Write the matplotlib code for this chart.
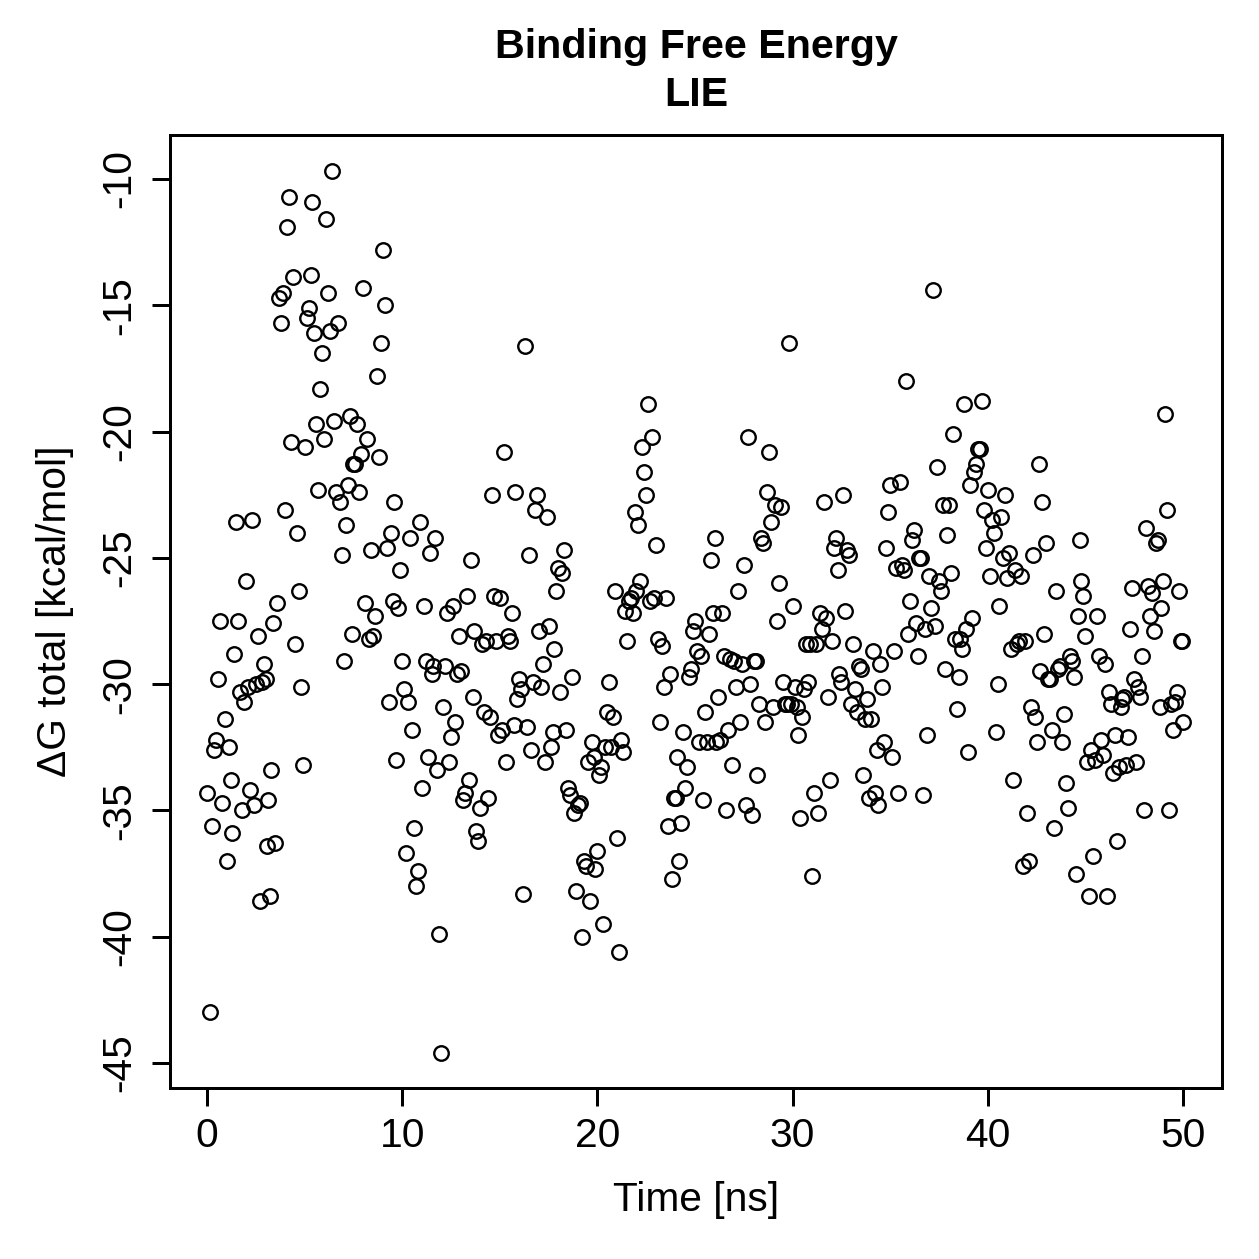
import matplotlib
matplotlib.use('Agg')
import matplotlib.pyplot as plt

plt.rcParams['font.family'] = ['Liberation Sans', 'DejaVu Sans']

# --- data: time [ns] and LIE dG total [kcal/mol] ---
time_ns = [
    0.0, 0.15, 0.25, 0.35, 0.45, 0.55, 0.65, 0.75, 0.9,
    1.0, 1.1, 1.2, 1.3, 1.4, 1.5, 1.6, 1.7, 1.8, 1.9,
    2.0, 2.1, 2.2, 2.3, 2.4, 2.5, 2.6, 2.7, 2.8, 2.9,
    3.0, 3.05, 3.1, 3.2, 3.3, 3.4, 3.5, 3.6, 3.7, 3.8, 3.9,
    4.0, 4.1, 4.2, 4.3, 4.4, 4.5, 4.6, 4.7, 4.8, 4.9,
    5.0, 5.1, 5.2, 5.3, 5.4, 5.5, 5.6, 5.7, 5.8, 5.9,
    6.0, 6.1, 6.2, 6.3, 6.4, 6.5, 6.6, 6.7, 6.8, 6.9,
    7.0, 7.1, 7.2, 7.3, 7.4, 7.5, 7.6, 7.7, 7.8, 7.9,
    8.0, 8.1, 8.2, 8.3, 8.4, 8.5, 8.6, 8.7, 8.8, 8.9,
    9.0, 9.1, 9.2, 9.3, 9.4, 9.5, 9.6, 9.7, 9.8, 9.9,
    10.0, 10.1, 10.2, 10.3, 10.4, 10.5, 10.6, 10.7, 10.8, 10.9,
    11.0, 11.1, 11.2, 11.3, 11.4, 11.5, 11.6, 11.7, 11.8, 11.9,
    12.0, 12.1, 12.2, 12.3, 12.4, 12.5, 12.6, 12.7, 12.8, 12.9,
    13.0, 13.1, 13.2, 13.3, 13.4, 13.5, 13.6, 13.7, 13.8, 13.9,
    14.0, 14.1, 14.2, 14.3, 14.4, 14.5, 14.6, 14.7, 14.8, 14.9,
    15.0, 15.1, 15.2, 15.3, 15.4, 15.5, 15.6, 15.7, 15.8, 15.9,
    16.0, 16.1, 16.2, 16.3, 16.4, 16.5, 16.6, 16.7, 16.8, 16.9,
    17.0, 17.1, 17.2, 17.3, 17.4, 17.5, 17.6, 17.7, 17.8, 17.9,
    18.0, 18.1, 18.2, 18.3, 18.4, 18.5, 18.6, 18.7, 18.8, 18.9,
    19.0, 19.1, 19.2, 19.3, 19.4, 19.5, 19.6, 19.7, 19.8, 19.9,
    20.0, 20.1, 20.2, 20.3, 20.4, 20.5, 20.6, 20.7, 20.8, 20.9,
    21.0, 21.1, 21.2, 21.3, 21.4, 21.5, 21.6, 21.7, 21.8, 21.9,
    22.0, 22.1, 22.2, 22.3, 22.4, 22.5, 22.6, 22.7, 22.8, 22.9,
    23.0, 23.1, 23.2, 23.3, 23.4, 23.5, 23.6, 23.7, 23.8, 23.9,
    24.0, 24.1, 24.2, 24.3, 24.4, 24.5, 24.6, 24.7, 24.8, 24.9,
    25.0, 25.1, 25.2, 25.3, 25.4, 25.5, 25.6, 25.7, 25.8, 25.9,
    26.0, 26.1, 26.2, 26.3, 26.4, 26.5, 26.6, 26.7, 26.8, 26.9,
    27.0, 27.1, 27.2, 27.3, 27.4, 27.5, 27.6, 27.7, 27.8, 27.9,
    28.0, 28.1, 28.2, 28.3, 28.4, 28.5, 28.6, 28.7, 28.8, 28.9,
    29.0, 29.1, 29.2, 29.3, 29.4, 29.5, 29.6, 29.7, 29.8, 29.9,
    30.0, 30.1, 30.2, 30.3, 30.4, 30.5, 30.6, 30.7, 30.8, 30.9,
    31.0, 31.1, 31.2, 31.3, 31.4, 31.5, 31.6, 31.7, 31.8, 31.9,
    32.0, 32.1, 32.2, 32.3, 32.4, 32.5, 32.6, 32.7, 32.8, 32.9,
    33.0, 33.1, 33.2, 33.3, 33.4, 33.5, 33.6, 33.7, 33.8, 33.9,
    34.0, 34.1, 34.2, 34.3, 34.4, 34.5, 34.6, 34.7, 34.8, 34.9,
    35.0, 35.1, 35.2, 35.3, 35.4, 35.5, 35.6, 35.7, 35.8, 35.9,
    36.0, 36.1, 36.2, 36.3, 36.4, 36.5, 36.6, 36.7, 36.8, 36.9,
    37.0, 37.1, 37.2, 37.3, 37.4, 37.5, 37.6, 37.7, 37.8, 37.9,
    38.0, 38.1, 38.2, 38.3, 38.4, 38.5, 38.6, 38.7, 38.8, 38.9,
    39.0, 39.1, 39.2, 39.3, 39.4, 39.5, 39.6, 39.7, 39.8, 39.9,
    40.0, 40.1, 40.2, 40.3, 40.4, 40.5, 40.6, 40.7, 40.8, 40.9,
    41.0, 41.1, 41.2, 41.3, 41.4, 41.5, 41.6, 41.7, 41.8, 41.9,
    42.0, 42.1, 42.2, 42.3, 42.4, 42.5, 42.6, 42.7, 42.8, 42.9,
    43.0, 43.1, 43.2, 43.3, 43.4, 43.5, 43.6, 43.7, 43.8, 43.9,
    44.0, 44.1, 44.2, 44.3, 44.4, 44.5, 44.6, 44.7, 44.8, 44.9,
    45.0, 45.1, 45.2, 45.3, 45.4, 45.5, 45.6, 45.7, 45.8, 45.9,
    46.0, 46.1, 46.2, 46.3, 46.4, 46.5, 46.6, 46.7, 46.8, 46.9,
    47.0, 47.1, 47.2, 47.3, 47.4, 47.5, 47.6, 47.7, 47.8, 47.9,
    48.0, 48.1, 48.2, 48.3, 48.4, 48.5, 48.6, 48.7, 48.8, 48.9,
    49.0, 49.1, 49.2, 49.3, 49.4, 49.5, 49.6, 49.7, 49.8, 49.9, 49.95, 50.0,
]

dg_total = [
    -34.3, -43.0, -35.6, -32.6, -32.2, -29.8, -27.5, -34.7, -31.4,
    -37.0, -32.5, -33.8, -35.9, -28.8, -23.6, -27.5, -30.3, -35.0, -30.7,
    -25.9, -30.1, -34.2, -23.5, -34.8, -30.0, -28.1, -38.6, -29.9, -29.2,
    -29.8, -36.4, -34.6, -38.4, -33.4, -27.6, -36.3, -26.8, -14.7, -15.7, -14.5,
    -23.1, -11.9, -10.7, -20.4, -13.9, -28.4, -24.0, -26.3, -30.1, -33.2,
    -20.6, -15.5, -15.1, -13.8, -10.9, -16.1, -19.7, -22.3, -18.3, -16.9,
    -20.3, -11.6, -14.5, -16.0, -9.7, -19.6, -22.4, -15.7, -22.8, -24.9,
    -29.1, -23.7, -22.1, -19.4, -28.0, -21.3, -21.3, -19.7, -22.4, -20.9,
    -14.3, -26.8, -20.3, -28.2, -24.7, -28.1, -27.3, -17.8, -21.0, -16.5,
    -12.8, -15.0, -24.6, -30.7, -24.0, -26.7, -22.8, -33.0, -27.0, -25.5,
    -29.1, -30.2, -36.7, -30.7, -24.2, -31.8, -35.7, -38.0, -37.4, -23.6,
    -34.1, -26.9, -29.1, -32.9, -24.8, -29.6, -29.3, -24.2, -33.4, -39.9,
    -44.6, -30.9, -29.3, -27.2, -33.1, -32.1, -26.9, -31.5, -29.6, -28.1,
    -29.5, -34.6, -34.3, -26.5, -33.8, -25.1, -30.5, -27.9, -35.8, -36.2,
    -34.9, -28.4, -31.1, -28.3, -34.5, -31.3, -22.5, -26.5, -28.3, -32.0,
    -26.6, -31.8, -20.8, -33.1, -28.1, -28.3, -27.2, -31.6, -22.4, -30.6,
    -29.8, -30.2, -38.3, -16.6, -31.7, -24.9, -32.6, -29.9, -23.1, -22.5,
    -27.9, -30.1, -29.2, -33.1, -23.4, -27.7, -32.5, -31.9, -28.6, -26.3,
    -25.4, -30.3, -25.6, -24.7, -31.8, -34.1, -34.4, -29.7, -35.1, -38.2,
    -34.8, -34.7, -40.0, -37.0, -37.2, -33.1, -38.6, -32.3, -32.9, -37.3,
    -36.6, -33.6, -33.3, -39.5, -32.5, -31.1, -29.9, -32.5, -31.3, -26.3,
    -36.1, -40.6, -32.2, -32.7, -27.1, -28.3, -26.7, -26.6, -27.2, -23.2,
    -26.3, -23.7, -25.9, -20.6, -21.6, -22.5, -18.9, -26.7, -20.2, -26.6,
    -24.5, -28.2, -31.5, -28.5, -30.1, -26.6, -35.6, -29.6, -37.7, -34.5,
    -34.5, -32.9, -37.0, -35.5, -31.9, -34.1, -33.3, -29.7, -29.4, -27.9,
    -27.5, -28.7, -32.3, -28.9, -34.6, -31.1, -32.3, -28.0, -25.1, -27.2,
    -24.2, -32.3, -30.5, -32.2, -27.2, -28.9, -35.0, -31.8, -29.0, -33.2,
    -29.1, -30.1, -26.3, -31.5, -29.2, -25.3, -34.8, -20.2, -30.0, -35.2,
    -29.1, -29.1, -33.6, -30.8, -24.2, -24.4, -31.5, -22.4, -20.8, -23.6,
    -30.9, -22.9, -27.5, -26.0, -23.0, -29.9, -30.8, -30.8, -16.5, -30.8,
    -26.9, -30.1, -30.9, -32.0, -35.3, -31.3, -30.2, -28.4, -29.9, -28.4,
    -37.6, -34.3, -28.4, -35.1, -27.2, -27.8, -22.8, -27.4, -30.5, -33.8,
    -28.3, -24.6, -24.2, -25.5, -29.6, -29.9, -22.5, -27.1, -24.7, -24.9,
    -30.8, -28.4, -30.2, -31.1, -29.3, -29.4, -33.6, -31.4, -30.6, -34.5,
    -31.4, -28.7, -34.3, -32.6, -34.8, -29.2, -30.1, -32.3, -24.6, -23.2,
    -22.1, -32.9, -28.7, -25.4, -34.3, -22.0, -25.3, -25.5, -18.0, -28.0,
    -26.7, -24.3, -23.9, -27.6, -28.9, -25.0, -25.0, -34.4, -27.8, -32.0,
    -25.7, -27.0, -14.4, -27.7, -21.4, -25.9, -26.3, -22.9, -29.4, -24.1,
    -22.9, -25.6, -20.1, -28.2, -31.0, -29.7, -28.2, -28.6, -18.9, -27.8,
    -32.7, -22.1, -27.4, -21.6, -21.3, -20.7, -20.7, -18.8, -23.1, -24.6,
    -22.3, -25.7, -23.5, -24.0, -31.9, -30.0, -26.9, -23.4, -25.0, -22.5,
    -25.8, -24.8, -28.6, -33.8, -25.5, -28.4, -28.3, -25.7, -37.2, -28.3,
    -35.1, -37.0, -30.9, -24.9, -31.3, -32.3, -21.3, -29.5, -22.8, -28.0,
    -24.4, -29.8, -29.8, -31.8, -35.7, -26.3, -29.4, -29.3, -32.3, -31.2,
    -33.9, -34.9, -28.9, -29.1, -29.7, -37.5, -27.3, -24.3, -25.9, -26.5,
    -28.1, -33.1, -38.4, -32.6, -36.8, -33.0, -27.3, -28.9, -32.2, -32.8,
    -29.2, -38.4, -30.3, -30.8, -33.5, -32.0, -36.2, -33.3, -30.9, -30.6,
    -30.5, -33.2, -32.1, -27.8, -26.2, -29.8, -33.1, -30.1, -30.5, -28.9,
    -35.0, -23.8, -26.1, -27.3, -26.4, -27.9, -24.4, -24.3, -30.9, -27.0,
    -25.9, -19.3, -23.1, -35.0, -30.8, -31.8, -30.7, -30.3, -26.3, -28.3, -28.3, -31.5,
]

x_ticks = [0, 10, 20, 30, 40, 50]
y_ticks = [-45, -40, -35, -30, -25, -20, -15, -10]

W = 1259
fig = plt.figure(figsize=(W / 180, W / 180), dpi=180)
ax = fig.add_axes([170 / W, 1 - 1088 / W, (1222 - 170) / W, (1088 - 135) / W])

ax.plot(time_ns, dg_total, linestyle='none', marker='o', ms=5.8,
        mfc='none', mec='black', mew=0.95)

ax.set_xlim(-1.9, 52.0)
ax.set_ylim(-45.99, -8.26)
ax.set_xticks(x_ticks)
ax.set_yticks(y_ticks)
ax.set_yticklabels([str(v) for v in y_ticks], rotation=90, va='center')

for s in ax.spines.values():
    s.set_linewidth(1.2)
ax.tick_params(axis='both', direction='out', length=7.2, width=1.2,
               labelsize=16.3, colors='black')
ax.tick_params(axis='x', pad=4.5)
ax.tick_params(axis='y', pad=5.5)

fig.text(696 / W, 1 - 1200 / W, 'Time [ns]', ha='center', va='center', fontsize=16.3)
fig.text(55 / W, 1 - 611 / W, 'ΔG total [kcal/mol]', ha='center', va='center',
         rotation=90, fontsize=16.3)
fig.text(696 / W, 1 - 47 / W, 'Binding Free Energy', ha='center', va='center',
         fontsize=16.5, fontweight='bold')
fig.text(696 / W, 1 - 95 / W, 'LIE', ha='center', va='center',
         fontsize=16.5, fontweight='bold')

fig.savefig('out.png', dpi=180)
